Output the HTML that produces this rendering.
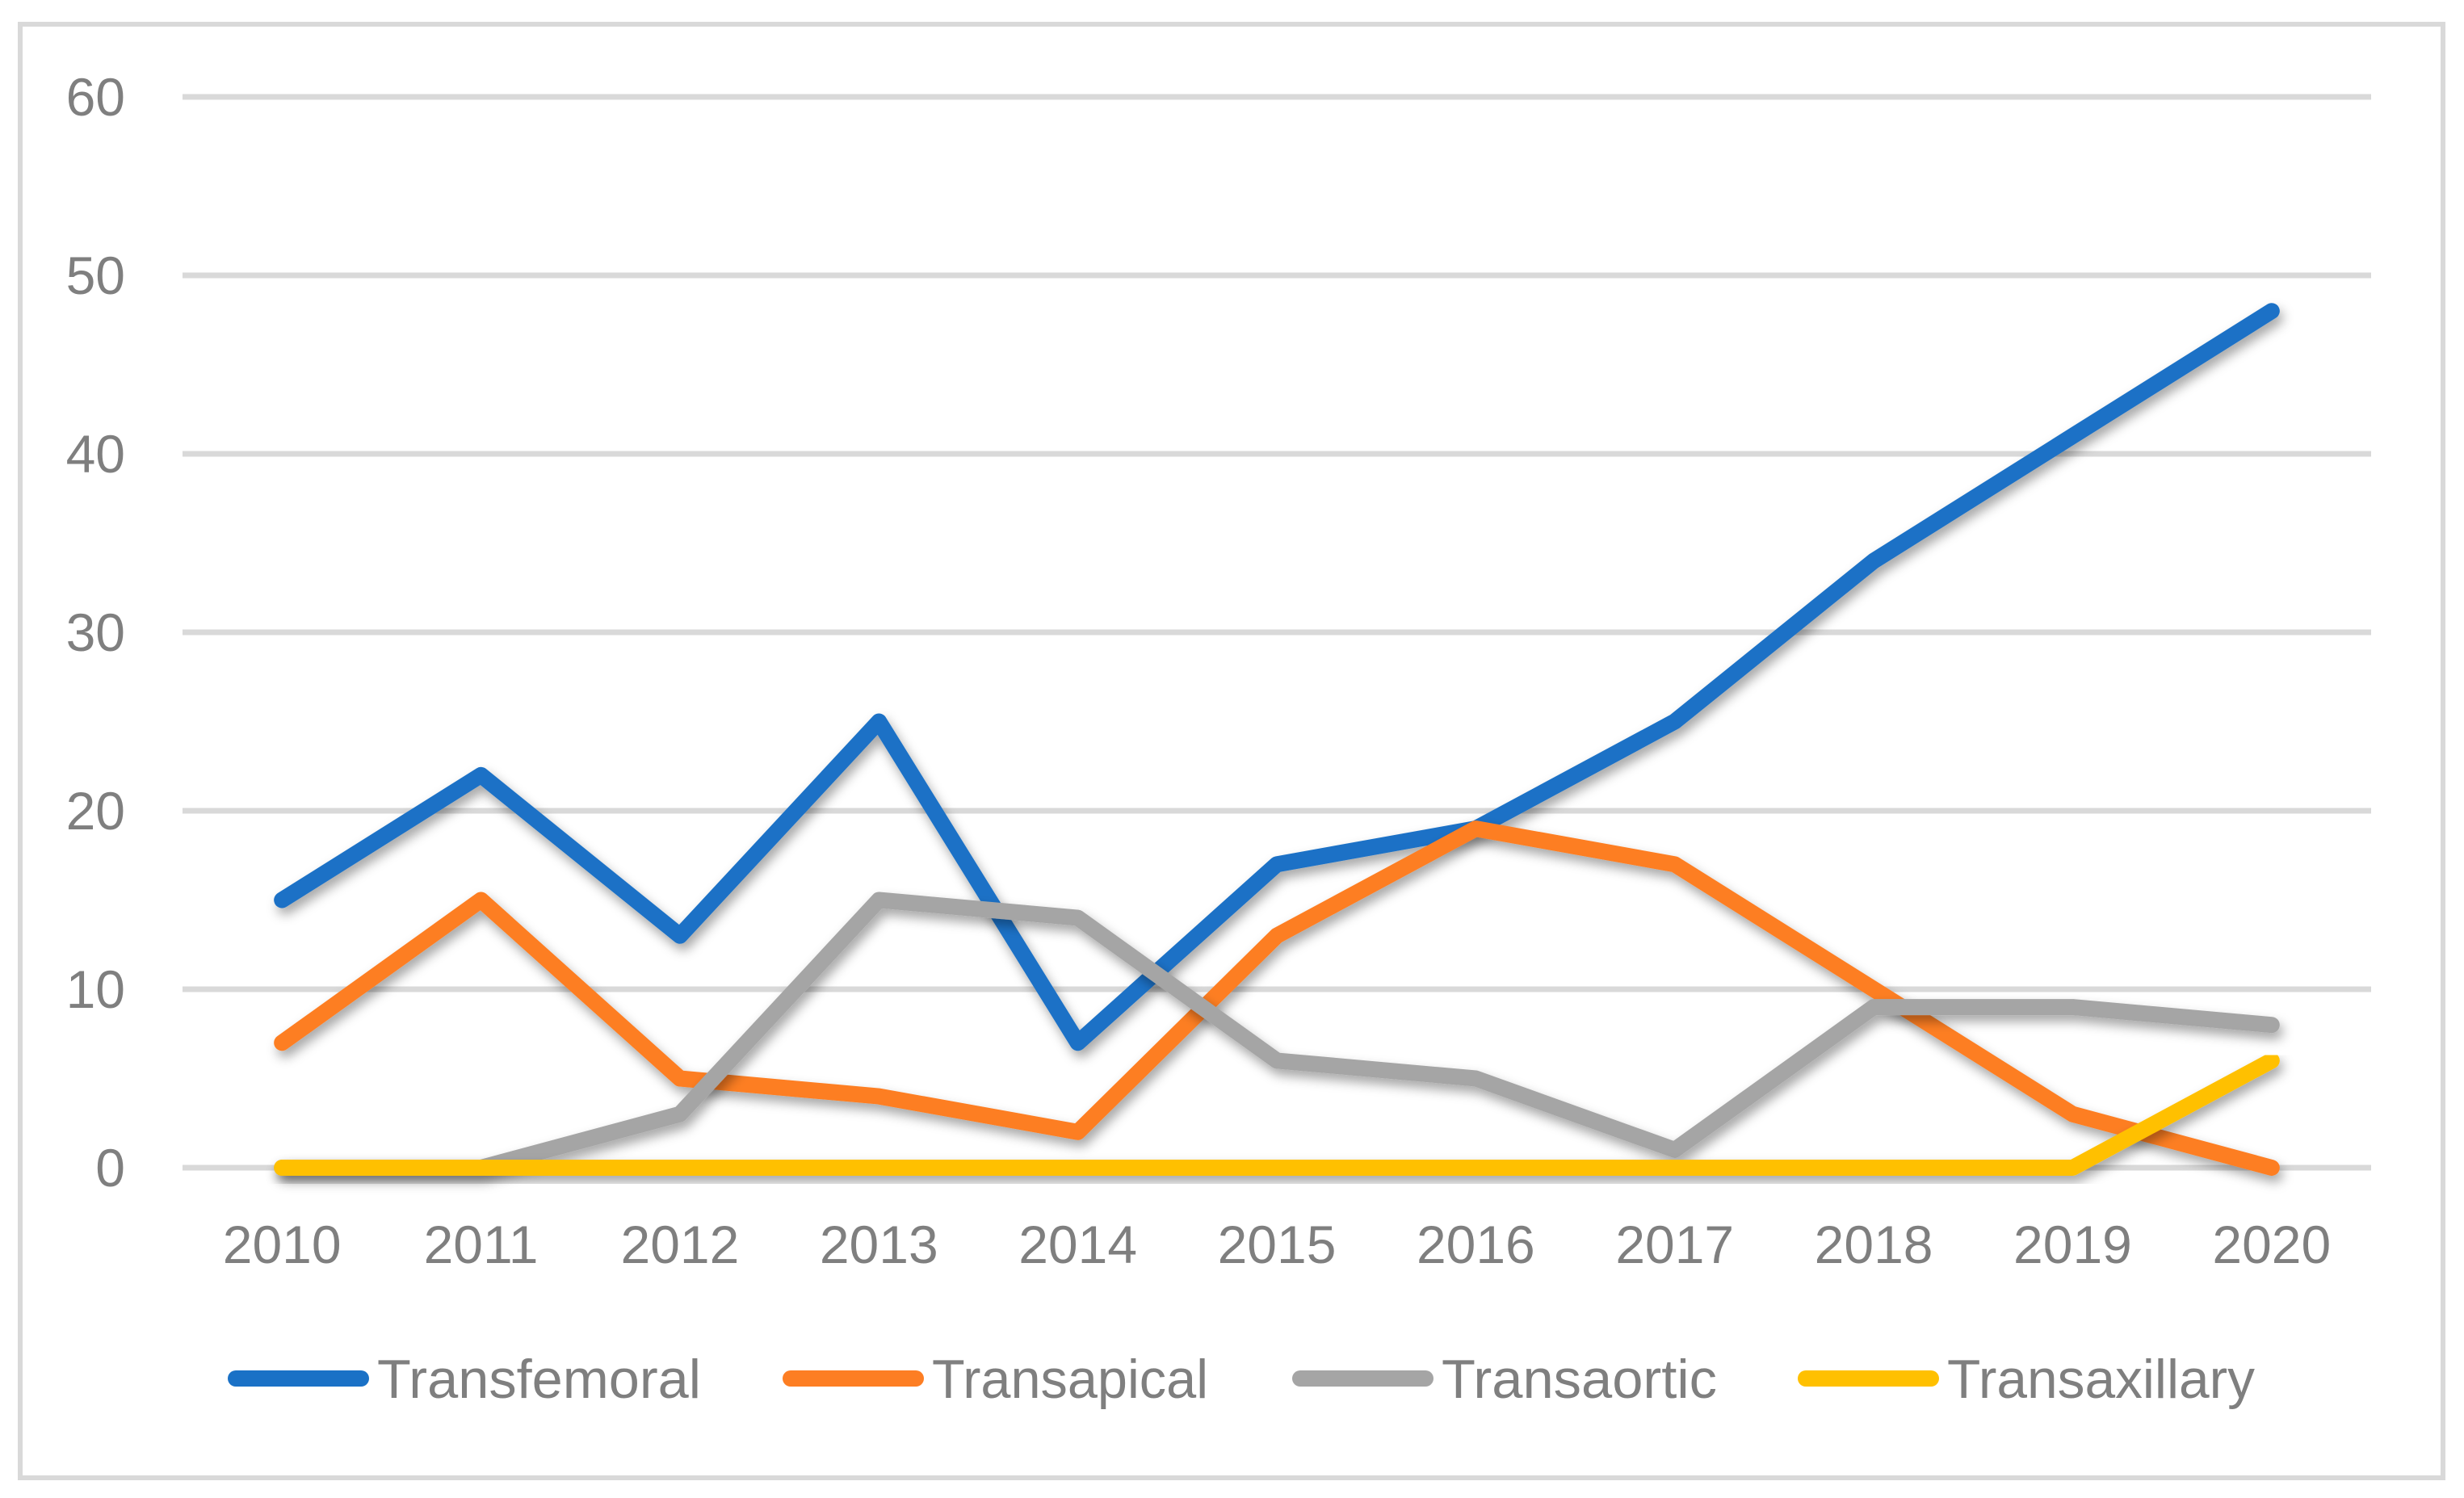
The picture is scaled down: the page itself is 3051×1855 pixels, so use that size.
<!DOCTYPE html>
<html><head><meta charset="utf-8"><style>
html,body{margin:0;padding:0;background:#fff;}
svg{display:block;}
text{font-family:"Liberation Sans",sans-serif;fill:#7f7f7f;}
</style></head><body>
<svg id="chart" width="3051" height="1855" viewBox="0 0 3051 1855" xmlns="http://www.w3.org/2000/svg">
<defs><filter id="sh" x="-5%" y="-5%" width="110%" height="120%"><feDropShadow dx="4" dy="8" stdDeviation="7" flood-color="#000" flood-opacity="0.35"/></filter></defs>
<rect x="25" y="30" width="3000" height="1800" fill="#fff" stroke="#d9d9d9" stroke-width="6"/>
<g id="grid"></g><g id="ylabels"></g><g id="xlabels"></g><g id="series"></g><g id="legend"></g>
</svg>
<script>
const categories=["2010","2011","2012","2013","2014","2015","2016","2017","2018","2019","2020"];
const transfemoral=[15,22,13,25,7,17,19,25,34,41,48];
const transapical=[7,15,5,4,2,13,19,17,10,3,0];
const transaortic=[0,0,3,15,14,6,5,1,9,9,8];
const transaxillary=[0,0,0,0,0,0,0,0,0,0,6];
const yTicks=[0,10,20,30,40,50,60];
const seriesNames=["Transfemoral","Transapical","Transaortic","Transaxillary"];
const colors=["#1a71c6","#fd7e23","#a5a5a5","#ffc000"];
const NS="http://www.w3.org/2000/svg";
const X0=226,X1=2936,Y0=1446,Y60=120;
function xs(i){return X0+(X1-X0)/categories.length*(i+0.5);}
function ys(v){return Y0-(Y0-Y60)*v/60;}
function mk(t,a,p){const e=document.createElementNS(NS,t);for(const k in a)e.setAttribute(k,a[k]);p.appendChild(e);return e;}
const grid=document.getElementById('grid'),yl=document.getElementById('ylabels'),xl=document.getElementById('xlabels'),sg=document.getElementById('series'),lg=document.getElementById('legend');
yTicks.forEach(v=>{
  const l=mk('line',{x1:X0,x2:X1,y1:ys(v),y2:ys(v),stroke:'#d9d9d9','stroke-width':7},grid);
  
  
  const t=mk('text',{x:155,y:ys(v)+23,'text-anchor':'end','font-size':66},yl);
  t.textContent=v;
  
  
});
categories.forEach((c,i)=>{
  const t=mk('text',{x:xs(i),y:1564,'text-anchor':'middle','font-size':66},xl);
  t.textContent=c;
  
  
});
const data=[transfemoral,transapical,transaortic,transaxillary];
for(let s=0;s<4;s++){
  const pts=data[s].map((v,i)=>xs(i)+','+ys(v)).join(' ');
  const p=mk('polyline',{points:pts,fill:'none',stroke:colors[s],'stroke-width':20,'stroke-linejoin':'round','stroke-linecap':'round',filter:'url(#sh)'},sg);
  
  
}
const legX=[292,979,1610,2236];
const legW=[401,342,341,381];
seriesNames.forEach((n,i)=>{
  const g=mk('g',{},lg);
  
  
  mk('line',{x1:legX[i],x2:legX[i]+155,y1:1707,y2:1707,stroke:colors[i],'stroke-width':20,'stroke-linecap':'round'},g);
  const t=mk('text',{x:legX[i]+175,y:1731,'font-size':68,textLength:legW[i],lengthAdjust:'spacingAndGlyphs'},g);
  t.textContent=n;
});
</script>
</body></html>
